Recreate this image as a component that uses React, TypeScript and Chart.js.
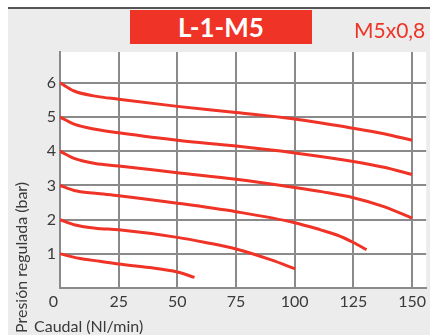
import React, { useEffect, useRef } from 'react';
import { Chart, registerables } from 'chart.js';

Chart.register(...registerables);

const titleText = 'L-1-M5';
const threadText = 'M5x0,8';
const xAxisTitle = 'Caudal (Nl/min)';
const yAxisTitle = 'Presión regulada (bar)';

const xTickValues = [0, 25, 50, 75, 100, 125, 150];
const yTickValues = [0, 1, 2, 3, 4, 5, 6];

const curve6X = [0, 6, 15, 25, 50, 75, 100, 125, 138, 150];
const curve6Y = [6, 5.76, 5.61, 5.52, 5.31, 5.13, 4.94, 4.67, 4.51, 4.32];
const curve5X = [0, 6, 15, 25, 50, 75, 100, 125, 138, 150];
const curve5Y = [5, 4.79, 4.64, 4.54, 4.32, 4.15, 3.95, 3.7, 3.53, 3.32];
const curve4X = [0, 6, 15, 25, 50, 75, 100, 112, 125, 138, 150];
const curve4Y = [4, 3.79, 3.64, 3.57, 3.37, 3.18, 2.94, 2.81, 2.64, 2.38, 2.04];
const curve3X = [0, 6, 15, 25, 50, 75, 100, 111, 118, 125, 130.6];
const curve3Y = [3, 2.85, 2.77, 2.7, 2.48, 2.23, 1.91, 1.7, 1.55, 1.33, 1.12];
const curve2X = [0, 6, 15, 25, 50, 62, 75, 90, 100.2];
const curve2Y = [2, 1.85, 1.75, 1.7, 1.48, 1.33, 1.14, 0.82, 0.56];
const curve1X = [0, 8, 17, 25, 38, 50, 57.3];
const curve1Y = [1, 0.87, 0.78, 0.7, 0.6, 0.47, 0.31];

const seriesX = [curve1X, curve2X, curve3X, curve4X, curve5X, curve6X];
const seriesY = [curve1Y, curve2Y, curve3Y, curve4Y, curve5Y, curve6Y];

const RED = '#ef3326';
const GRID = '#8a8a8a';
const FONT = 'Lato, "Open Sans", sans-serif';

const titlesPlugin = {
  id: 'axisTitles',
  afterDraw(chart: any) {
    const ctx = chart.ctx;
    ctx.save();
    ctx.fillStyle = '#3a3a3a';
    ctx.font = '16px ' + FONT;
    ctx.textAlign = 'left';
    ctx.textBaseline = 'alphabetic';
    ctx.fillText(xAxisTitle, 26, 323);
    ctx.translate(18.5, 324);
    ctx.rotate(-Math.PI / 2);
    ctx.fillText(yAxisTitle, 0, 0);
    ctx.restore();
  },
};

function LineChart() {
  const ref = useRef<HTMLCanvasElement | null>(null);
  useEffect(() => {
    if (!ref.current) return;
    const datasets = seriesX.map((xs, i) => ({
      data: xs.map((x, j) => ({ x, y: seriesY[i][j] })),
      borderColor: RED,
      borderWidth: 3,
      pointRadius: 0,
      fill: false,
      cubicInterpolationMode: 'monotone' as const,
      borderCapStyle: 'butt' as const,
    }));
    const chart = new Chart(ref.current, {
      type: 'line',
      data: { datasets },
      options: {
        responsive: false,
        animation: false,
        events: [],
        layout: { padding: { top: 43, left: 0, right: 0, bottom: 0 } },
        plugins: {
          legend: { display: false },
          tooltip: { enabled: false },
          title: { display: false },
        },
        scales: {
          x: {
            type: 'linear',
            min: 0,
            max: 156,
            afterBuildTicks: (scale: any) => {
              scale.ticks = xTickValues.map((v) => ({ value: v }));
            },
            afterFit: (scale: any) => {
              scale.height = 47;
            },
            grid: { color: GRID, lineWidth: 2, drawTicks: false },
            border: { display: true, color: GRID, width: 2 },
            ticks: {
              padding: 4,
              color: '#3a3a3a',
              font: { family: FONT, size: 16 },
              maxRotation: 0,
              autoSkip: false,
              callback: (v: any) => (v === 0 ? '0\u2007 ' : String(v)),
            },
          },
          y: {
            type: 'linear',
            min: 0,
            max: 6.9,
            afterBuildTicks: (scale: any) => {
              scale.ticks = yTickValues.map((v) => ({ value: v }));
            },
            afterFit: (scale: any) => {
              scale.width = 52;
            },
            grid: { color: GRID, lineWidth: 2, drawTicks: false },
            border: { display: true, color: GRID, width: 2 },
            ticks: {
              padding: 4,
              color: '#3a3a3a',
              font: { family: FONT, size: 16 },
              callback: (v: any) => (v === 0 ? '' : String(v)),
            },
          },
        },
      },
      plugins: [
        {
          id: 'plotBg',
          beforeDraw(c: any) {
            const a = c.chartArea;
            c.ctx.save();
            c.ctx.fillStyle = '#ffffff';
            c.ctx.fillRect(a.left, a.top, a.right - a.left, a.bottom - a.top);
            c.ctx.restore();
          },
        },
        titlesPlugin,
      ],
    });
    return () => chart.destroy();
  }, []);
  return (
    <canvas
      ref={ref}
      width={422}
      height={326}
      style={{ position: 'absolute', left: 0, top: 0, width: 422, height: 326 }}
    />
  );
}

export default function App() {
  return (
    <div
      style={{
        position: 'fixed',
        left: 8,
        top: 7,
        right: 0,
        bottom: 0,
        background: '#ececec',
        borderTop: '2px solid #555555',
        overflow: 'hidden',
        fontFamily: FONT,
      }}
    >
      <LineChart />
      <div
        style={{
          position: 'absolute',
          left: 122,
          top: 1,
          width: 182,
          height: 34,
          background: RED,
          color: '#ffffff',
          fontWeight: 700,
          fontSize: 26,
          lineHeight: '34px',
          textAlign: 'center',
        }}
      >
        {titleText}
      </div>
      <div
        style={{
          position: 'absolute',
          left: 346,
          top: 7,
          color: RED,
          fontSize: 21,
          lineHeight: '28px',
        }}
      >
        {threadText}
      </div>
    </div>
  );
}
